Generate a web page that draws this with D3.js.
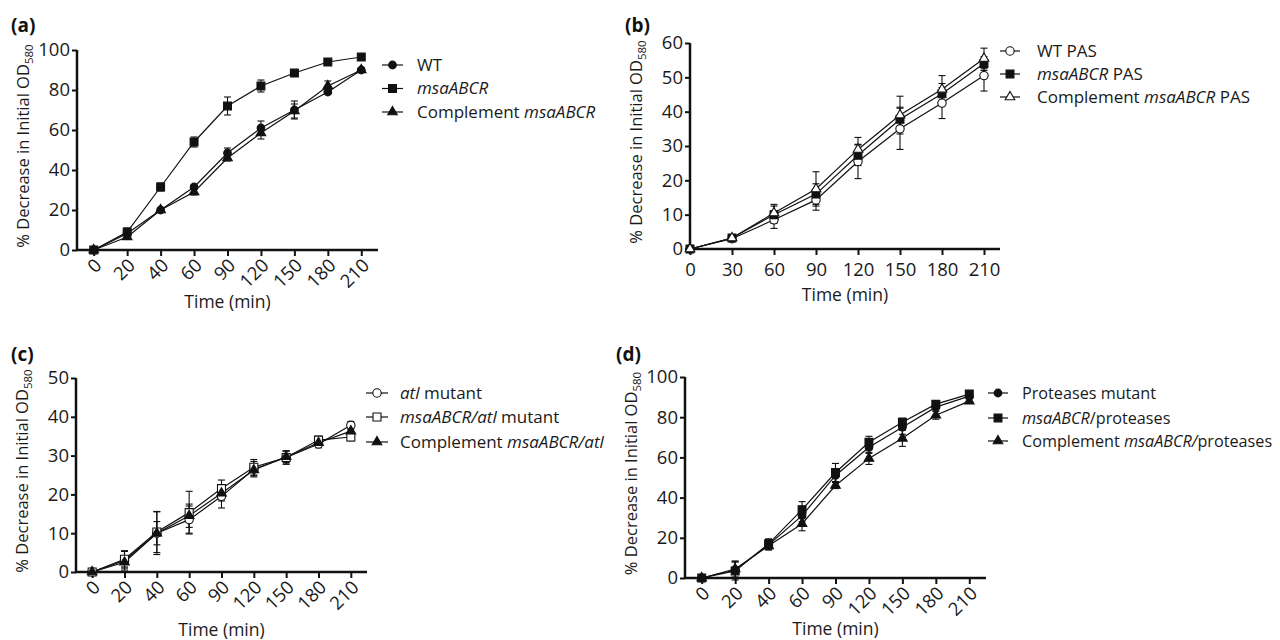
<!DOCTYPE html>
<html>
<head>
<meta charset="utf-8">
<script src="https://cdn.jsdelivr.net/npm/d3@7"></script>
<style>
  body { margin: 0; background: #fff; }
  svg { font-family: 'Open Sans', sans-serif; }
  .legend text { fill: #1a1a1a; }
  .axis-title { fill: #1a1a1a; }
  .panel-label { font-size: 19px; font-weight: bold; fill: #111; }
</style>
</head>
<body>
<svg width="1280" height="640"></svg>
<script>
// time points (categorical x for a, c, d)
const timeLabels = ['0', '20', '40', '60', '90', '120', '150', '180', '210'];
const timesB = [0, 30, 60, 90, 120, 150, 180, 210];

// (a)
const wtA = [0, 8.3, 20, 31.5, 48.5, 61, 70, 79, 90];
const wtAErr = [0, 1, 0.8, 1, 2.5, 3.5, 4.5, 1, 0.8];
const msaA = [0, 9, 31.5, 54, 72, 82, 88.5, 94, 96.5];
const msaAErr = [0, 2, 2, 2.5, 4.5, 3, 1, 1, 1];
const compA = [0, 6.5, 20, 29, 46, 58.5, 69.5, 82, 90];
const compAErr = [0, 1.2, 1, 1.5, 1.5, 3, 3.5, 2.5, 1];

// (b)
const wtPasB = [0, 3, 8.5, 14.3, 25.5, 35, 42.5, 50.5];
const wtPasBErr = [0, 0.5, 2.5, 3, 5, 6, 4.5, 4.5];
const msaPasB = [0, 3.2, 10, 16, 27.3, 37.8, 45.2, 54];
const msaPasBErr = [0, 0.5, 2.5, 3, 3, 3.5, 3, 2];
const compPasB = [0, 3.2, 10.5, 17.5, 29, 39, 46.5, 55.5];
const compPasBErr = [0, 0.5, 2.5, 5, 3.5, 5.5, 4, 3];

// (c)
const atlC = [0, 3, 10, 13.5, 19.5, 26.5, 29.5, 33, 37.8];
const atlCErr = [0, 2.5, 5.5, 3.5, 3, 2, 1.7, 1, 1];
const msaAtlC = [0, 3.3, 10.3, 15.3, 21.5, 27, 29.5, 34, 34.8];
const msaAtlCErr = [0, 2, 5.3, 5.5, 2.2, 2, 1.7, 1, 1];
const compAtlC = [0, 2.5, 10, 14.5, 20.3, 26.3, 29.7, 33.3, 36.3];
const compAtlCErr = [0, 1.5, 3, 3, 2, 1.5, 1.5, 1, 1];

// (d)
const protD = [0, 4, 16.5, 31, 51, 65, 75, 85, 90.5];
const protDErr = [0, 4, 2.5, 3, 3, 3, 3.5, 2, 1];
const msaProtD = [0, 3.5, 17, 34, 52.5, 67.5, 77.5, 86.5, 91.5];
const msaProtDErr = [0, 4.5, 2.5, 4, 4.5, 3, 2, 1.5, 1];
const compProtD = [0, 4.5, 16, 27, 46, 59.5, 69.5, 81, 88];
const compProtDErr = [0, 4, 2, 3.5, 1.5, 3, 4, 2, 1];

const svg = d3.select('svg');

const symbolFor = (shape, open) => {
  const type = shape === 'circle' ? d3.symbolCircle : shape === 'square' ? d3.symbolSquare : d3.symbolTriangle;
  const size = shape === 'circle' ? (open ? 55 : 46) : shape === 'square' ? (open ? 64 : 62) : 40;
  return d3.symbol().type(type).size(size)();
};

const drawMarker = (g, shape, open, x, y) => {
  g.append('path')
    .attr('d', symbolFor(shape, open))
    .attr('transform', `translate(${x},${y})`)
    .attr('fill', open ? '#fff' : '#111')
    .attr('stroke', '#111')
    .attr('stroke-width', 1.1);
};

const tickFont = g => g
  .attr('font-family', "'Open Sans', sans-serif")
  .attr('font-size', 18.5)
  .selectAll('.tick text').attr('fill', '#1a1a1a');

const render = p => {
  const g = svg.append('g');

  const xScale = p.xs === 'point'
    ? d3.scalePoint().domain(p.xDomain).range([p.left, p.right]).padding(0.5)
    : d3.scaleLinear().domain([0, 210]).range([p.left, p.xEnd]);

  const yScale = d3.scaleLinear()
    .domain([0, p.yMax])
    .range([p.bottom, p.top]);

  // y axis
  const yAxisG = g.append('g')
    .attr('transform', `translate(${p.left},0)`)
    .call(d3.axisLeft(yScale).tickValues(d3.range(0, p.yMax + 1, p.yStep)).tickSize(5).tickPadding(2).tickSizeOuter(0))
    .call(tickFont);
  yAxisG.select('.domain').remove();
  yAxisG.selectAll('.tick line').attr('stroke', '#111').attr('stroke-width', 2);

  // x axis
  const xAxis = p.xs === 'point'
    ? d3.axisBottom(xScale).tickSize(6).tickSizeOuter(0)
    : d3.axisBottom(xScale).tickValues(timesB).tickSize(6).tickPadding(8).tickSizeOuter(0);
  const xAxisG = g.append('g')
    .attr('transform', `translate(0,${p.bottom})`)
    .call(xAxis)
    .call(tickFont);
  xAxisG.select('.domain').remove();
  xAxisG.selectAll('.tick line').attr('stroke', '#111').attr('stroke-width', 2);
  if (p.xs === 'point') {
    xAxisG.selectAll('.tick text')
      .attr('text-anchor', 'end')
      .attr('y', 0)
      .attr('dy', '0.35em')
      .attr('transform', 'translate(4,12) rotate(-45)');
  }

  // axis lines
  g.append('line')
    .attr('x1', p.left).attr('x2', p.left)
    .attr('y1', p.top).attr('y2', p.bottom + 1)
    .attr('stroke', '#111').attr('stroke-width', 2.5);
  g.append('line')
    .attr('x1', p.left - 1).attr('x2', p.right)
    .attr('y1', p.bottom).attr('y2', p.bottom)
    .attr('stroke', '#111').attr('stroke-width', 2.5);

  const xs = p.xs === 'point' ? p.xDomain : timesB;
  const xPos = i => xScale(xs[i]);

  const line = d3.line()
    .x((d, i) => xPos(i))
    .y(d => yScale(d));

  // series lines
  p.series.forEach(s => {
    g.append('path')
      .attr('d', line(s.values))
      .attr('fill', 'none')
      .attr('stroke', '#111')
      .attr('stroke-width', 1.2);
  });

  // error bars
  p.series.forEach(s => {
    s.values.forEach((v, i) => {
      const e = s.errors[i];
      if (!e) return;
      const x = xPos(i);
      const eg = g.append('g').attr('stroke', '#111').attr('stroke-width', 1.1);
      eg.append('line').attr('x1', x).attr('x2', x).attr('y1', yScale(v - e)).attr('y2', yScale(v + e));
      eg.append('line').attr('x1', x - 3.5).attr('x2', x + 3.5).attr('y1', yScale(v + e)).attr('y2', yScale(v + e));
      eg.append('line').attr('x1', x - 3.5).attr('x2', x + 3.5).attr('y1', yScale(v - e)).attr('y2', yScale(v - e));
    });
  });

  // markers
  p.series.forEach(s => {
    s.values.forEach((v, i) => drawMarker(g, s.shape, s.open, xPos(i), yScale(v)));
  });

  // titles
  g.append('text')
    .attr('class', 'panel-label')
    .attr('x', p.labelX)
    .attr('y', p.labelY)
    .text(p.label);

  const yt = g.append('text')
    .attr('class', 'axis-title')
    .attr('font-size', 16.5)
    .attr('text-anchor', 'middle')
    .attr('transform', `translate(${p.left - 48},${(p.top + p.bottom) / 2 - 4}) rotate(-90)`);
  yt.append('tspan').text('% Decrease in Initial OD');
  yt.append('tspan').attr('font-size', 11.5).attr('dy', 4).text('580');

  g.append('text')
    .attr('class', 'axis-title')
    .attr('font-size', 17.5)
    .attr('text-anchor', 'middle')
    .attr('x', (p.left + p.right) / 2)
    .attr('y', p.xTitleY)
    .text('Time (min)');

  // legend
  const lg = g.append('g').attr('class', 'legend').attr('font-size', p.legend.fs);
  p.series.forEach((s, i) => {
    const y = p.legend.ys[i];
    lg.append('line')
      .attr('x1', p.legend.x1).attr('x2', p.legend.x2)
      .attr('y1', y).attr('y2', y)
      .attr('stroke', '#111').attr('stroke-width', 1.2);
    drawMarker(lg, s.shape, s.open, (p.legend.x1 + p.legend.x2) / 2, y);
    const t = lg.append('text')
      .attr('x', p.legend.tx)
      .attr('y', y)
      .attr('dy', '0.35em');
    s.label.forEach(part => {
      t.append('tspan')
        .attr('font-style', part[1] ? 'italic' : 'normal')
        .text(part[0]);
    });
  });
};

render({
  label: '(a)', labelX: 11, labelY: 32,
  xs: 'point', xDomain: timeLabels,
  left: 77, right: 378, top: 50, bottom: 250, yMax: 100, yStep: 20,
  xTitleY: 308,
  legend: { x1: 382, x2: 403, tx: 417, ys: [65, 88.5, 112], fs: 17 },
  series: [
    { values: wtA, errors: wtAErr, shape: 'circle', open: false, label: [['WT', false]] },
    { values: msaA, errors: msaAErr, shape: 'square', open: false, label: [['msaABCR', true]] },
    { values: compA, errors: compAErr, shape: 'triangle', open: false, label: [['Complement ', false], ['msaABCR', true]] }
  ]
});

render({
  label: '(b)', labelX: 625, labelY: 32,
  xs: 'linear',
  left: 690, right: 1000, xEnd: 984, top: 43, bottom: 249, yMax: 60, yStep: 10,
  xTitleY: 301,
  legend: { x1: 1000, x2: 1020, tx: 1037, ys: [51, 74, 97], fs: 17 },
  series: [
    { values: wtPasB, errors: wtPasBErr, shape: 'circle', open: true, label: [['WT PAS', false]] },
    { values: msaPasB, errors: msaPasBErr, shape: 'square', open: false, label: [['msaABCR', true], [' PAS', false]] },
    { values: compPasB, errors: compPasBErr, shape: 'triangle', open: true, label: [['Complement ', false], ['msaABCR', true], [' PAS', false]] }
  ]
});

render({
  label: '(c)', labelX: 11, labelY: 361,
  xs: 'point', xDomain: timeLabels,
  left: 76, right: 367, top: 378, bottom: 572, yMax: 50, yStep: 10,
  xTitleY: 636,
  legend: { x1: 366, x2: 388, tx: 400, ys: [393, 417, 442], fs: 17 },
  series: [
    { values: atlC, errors: atlCErr, shape: 'circle', open: true, label: [['atl', true], [' mutant', false]] },
    { values: msaAtlC, errors: msaAtlCErr, shape: 'square', open: true, label: [['msaABCR/atl', true], [' mutant', false]] },
    { values: compAtlC, errors: compAtlCErr, shape: 'triangle', open: false, label: [['Complement ', false], ['msaABCR/atl', true]] }
  ]
});

render({
  label: '(d)', labelX: 616, labelY: 361,
  xs: 'point', xDomain: timeLabels,
  left: 685, right: 986, top: 377, bottom: 578, yMax: 100, yStep: 20,
  xTitleY: 635,
  legend: { x1: 988, x2: 1008, tx: 1022, ys: [393, 418, 441], fs: 16.2 },
  series: [
    { values: protD, errors: protDErr, shape: 'circle', open: false, label: [['Proteases mutant', false]] },
    { values: msaProtD, errors: msaProtDErr, shape: 'square', open: false, label: [['msaABCR', true], ['/proteases', false]] },
    { values: compProtD, errors: compProtDErr, shape: 'triangle', open: false, label: [['Complement ', false], ['msaABCR/', true], ['proteases', false]] }
  ]
});
</script>
</body>
</html>
